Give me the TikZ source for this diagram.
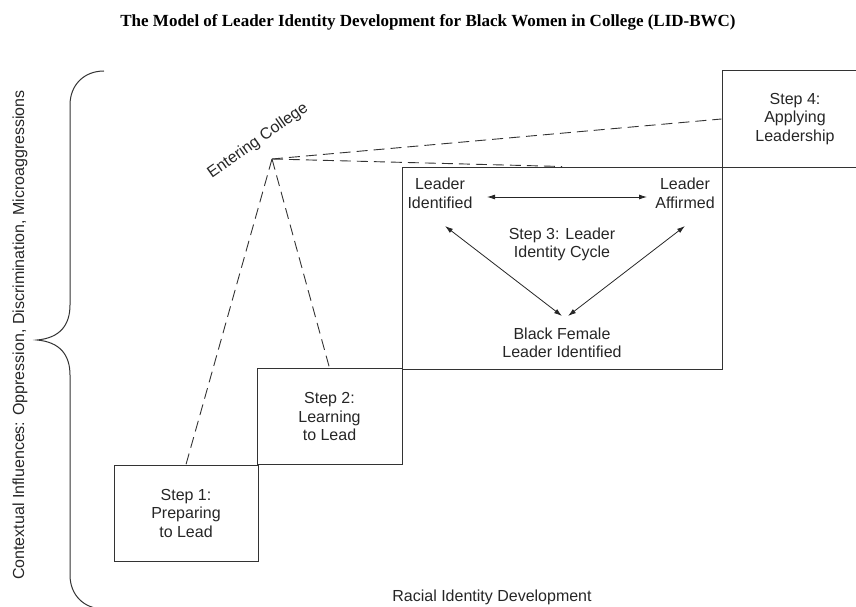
\documentclass[tikz,border=0pt]{standalone}
\usepackage{fontspec}
\setmainfont{Liberation Sans}
\newfontfamily\titlefont{Liberation Serif}
\usetikzlibrary{arrows.meta}
\begin{document}
\begin{tikzpicture}[x=1pt,y=-1pt,
  ink/.style={draw=black!80, line width=1pt},
  stepbox/.style={ink, rectangle, inner sep=0pt, align=center,
    font=\fontsize{16}{18.5}\selectfont, text=black!85},
  lbl/.style={align=center, inner sep=1pt,
    font=\fontsize{16}{18.5}\selectfont, text=black!85},
  dashline/.style={draw=black!80, line width=0.9pt, dash pattern=on 11pt off 6pt},
  cyc/.style={draw=black!85, line width=0.8pt,
    {Latex[length=8pt,width=5pt]}-{Latex[length=8pt,width=5pt]}},
]
\useasboundingbox (0,0) rectangle (856,607);
\clip (0,0) rectangle (856,607);

% title
\node[font=\titlefont\bfseries\fontsize{17}{20}\selectfont] (title) at (428,22)
  {The Model of Leader Identity Development for Black Women in College (LID-BWC)};

% contextual influences brace
\draw[ink] (104,71) .. controls (84,71) and (70,85) .. (70,105) -- (70,305)
  .. controls (70,325) and (60,338) .. (37,340)
  .. controls (60,342) and (70,355) .. (70,375) -- (70,575)
  .. controls (70,595) and (84,609) .. (104,609);
\node[lbl, rotate=90] (ctx) at (20,335)
  {Contextual Influences: Oppression, Discrimination, Microaggressions};

% the four steps
\node[stepbox, minimum width=144pt, minimum height=96pt] (s1) at (186,513)
  {Step 1:\\Preparing\\to Lead};
\node[stepbox, minimum width=145pt, minimum height=96pt] (s2) at (329.5,416.5)
  {Step 2:\\Learning\\to Lead};
\node[stepbox, minimum width=320pt, minimum height=202pt] (s3) at (562,268) {};
\node[stepbox, minimum width=146pt, minimum height=96pt] (s4) at (795,119)
  {Step 4:\\Applying\\Leadership};

% entering college
\coordinate (ec) at (272,159);
\node[lbl, rotate=35] (ectext) at (258,141) {Entering College};
\draw[dashline] (ec) -- (s1.north);
\draw[dashline] (ec) -- (s2.north);
\draw[dashline] (ec) -- (s4.west);
\draw[dashline] (ec) -- (s3.north);

% leader identity cycle
\node[lbl] (li) at (440,193.5) {Leader\\Identified};
\node[lbl] (la) at (685,193.5) {Leader\\Affirmed};
\node[lbl] (cy) at (562,244.5) {Step 3: Leader\\Identity Cycle};
\node[lbl] (bf) at (562,343) {Black Female\\Leader Identified};

\draw[cyc] ([shift={(47,3.5)}]li.center) -- ([shift={(-38,3.5)}]la.center);
\draw[cyc] ([shift={(5,32.5)}]li.center) -- ([shift={(0,-27)}]bf.center);
\draw[cyc] ([shift={(0,32.5)}]la.center) -- ([shift={(6,-27)}]bf.center);

% racial identity axis label
\node[lbl] (rid) at (492,597) {Racial Identity Development};
\end{tikzpicture}
\end{document}
